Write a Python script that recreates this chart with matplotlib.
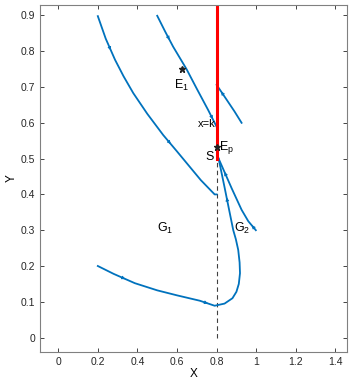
import numpy as np
import matplotlib.pyplot as plt

plt.rcParams["font.family"] = ["Liberation Sans", "DejaVu Sans"]
plt.rcParams["mathtext.default"] = "regular"

# trajectories
xa = [0.20, 0.24, 0.287, 0.33, 0.379, 0.45, 0.53, 0.60, 0.66, 0.72, 0.79, 0.80]
ya = [0.898, 0.835, 0.776, 0.73, 0.683, 0.625, 0.566, 0.52, 0.48, 0.44, 0.40, 0.40]
xb = [0.50, 0.54, 0.58, 0.648, 0.70, 0.757, 0.80]
yb = [0.899, 0.855, 0.813, 0.75, 0.695, 0.636, 0.589]
xc = [0.80, 0.85, 0.89, 0.926]
yc = [0.706, 0.665, 0.632, 0.60]
xd = [0.81, 0.876, 0.926, 0.96, 0.998]
yd = [0.50, 0.417, 0.357, 0.325, 0.30]
xe = [0.20, 0.28, 0.387, 0.5, 0.6, 0.715, 0.79, 0.84, 0.88, 0.90, 0.912, 0.918,
      0.916, 0.909, 0.897, 0.884, 0.863, 0.84, 0.81]
ye = [0.20, 0.178, 0.152, 0.132, 0.118, 0.103, 0.089, 0.095, 0.11, 0.128, 0.15, 0.18,
      0.21, 0.245, 0.275, 0.30, 0.357, 0.42, 0.50]
k = 0.8
sliding_y = [0.50, 0.93]
E1 = (0.625, 0.75)
Ep = (0.80, 0.533)

blue = "#0072BD"
fig = plt.figure(figsize=(3.54, 3.88), dpi=100)
ax = fig.add_axes([0.113, 0.093, 0.867, 0.894])

def arrow(x, y, i, rev=False):
    p0 = (x[i], y[i]); p1 = (x[i + 1], y[i + 1])
    if rev:
        p0, p1 = p1, p0
    mx, my = (p0[0] + p1[0]) / 2, (p0[1] + p1[1]) / 2
    ax.annotate("", xy=(mx + (p1[0] - p0[0]) * 0.05, my + (p1[1] - p0[1]) * 0.05),
                xytext=(mx, my),
                arrowprops=dict(arrowstyle="-|>", color=blue, lw=0.6, mutation_scale=5))

ax.plot([k, k], [0, 0.5], "--", color="#404040", lw=0.8, dashes=(4, 3))
for x, y in [(xa, ya), (xb, yb), (xc, yc), (xd, yd), (xe, ye)]:
    ax.plot(x, y, color=blue, lw=1.3)
ax.plot([k, k], sliding_y, color="red", lw=2.2)

arrow(xa, ya, 1); arrow(xa, ya, 6)
arrow(xb, yb, 1); arrow(xb, yb, 5)
arrow(xc, yc, 0, rev=True)
arrow(xd, yd, 0, rev=True); arrow(xd, yd, 3, rev=True)
arrow(xe, ye, 1); arrow(xe, ye, 5); arrow(xe, ye, 16)

ax.plot(*E1, marker="*", color="#222222", ms=4.5)
ax.plot(*Ep, marker="*", color="#222222", ms=4.5)

fs = 9
ax.text(0.623, 0.705, "E$_1$", fontsize=fs, ha="center", va="center")
ax.text(0.793, 0.598, "x=k", fontsize=fs - 1, ha="right", va="center")
ax.text(0.81, 0.532, "E$_p$", fontsize=fs, ha="left", va="center")
ax.text(0.765, 0.505, "S", fontsize=fs, ha="center", va="center")
ax.text(0.54, 0.306, "G$_1$", fontsize=fs, ha="center", va="center")
ax.text(0.93, 0.306, "G$_2$", fontsize=fs, ha="center", va="center")

ax.set_xlim(-0.092, 1.458)
ax.set_ylim(-0.04, 0.929)
ax.set_xticks(np.arange(0, 1.41, 0.2))
ax.set_xticklabels(["0", "0.2", "0.4", "0.6", "0.8", "1", "1.2", "1.4"])
ax.set_yticks(np.arange(0, 0.91, 0.1))
ax.set_yticklabels(["0", "0.1", "0.2", "0.3", "0.4", "0.5", "0.6", "0.7", "0.8", "0.9"])
ax.tick_params(direction="in", top=True, right=True, labelsize=7.5, length=3,
               colors="#262626", width=0.6)
for s in ax.spines.values():
    s.set_color("#808080")
    s.set_linewidth(0.8)
ax.set_xlabel("X", fontsize=8.5, labelpad=1)
ax.set_ylabel("Y", fontsize=8.5, labelpad=2)

fig.savefig("out.png", dpi=100)
